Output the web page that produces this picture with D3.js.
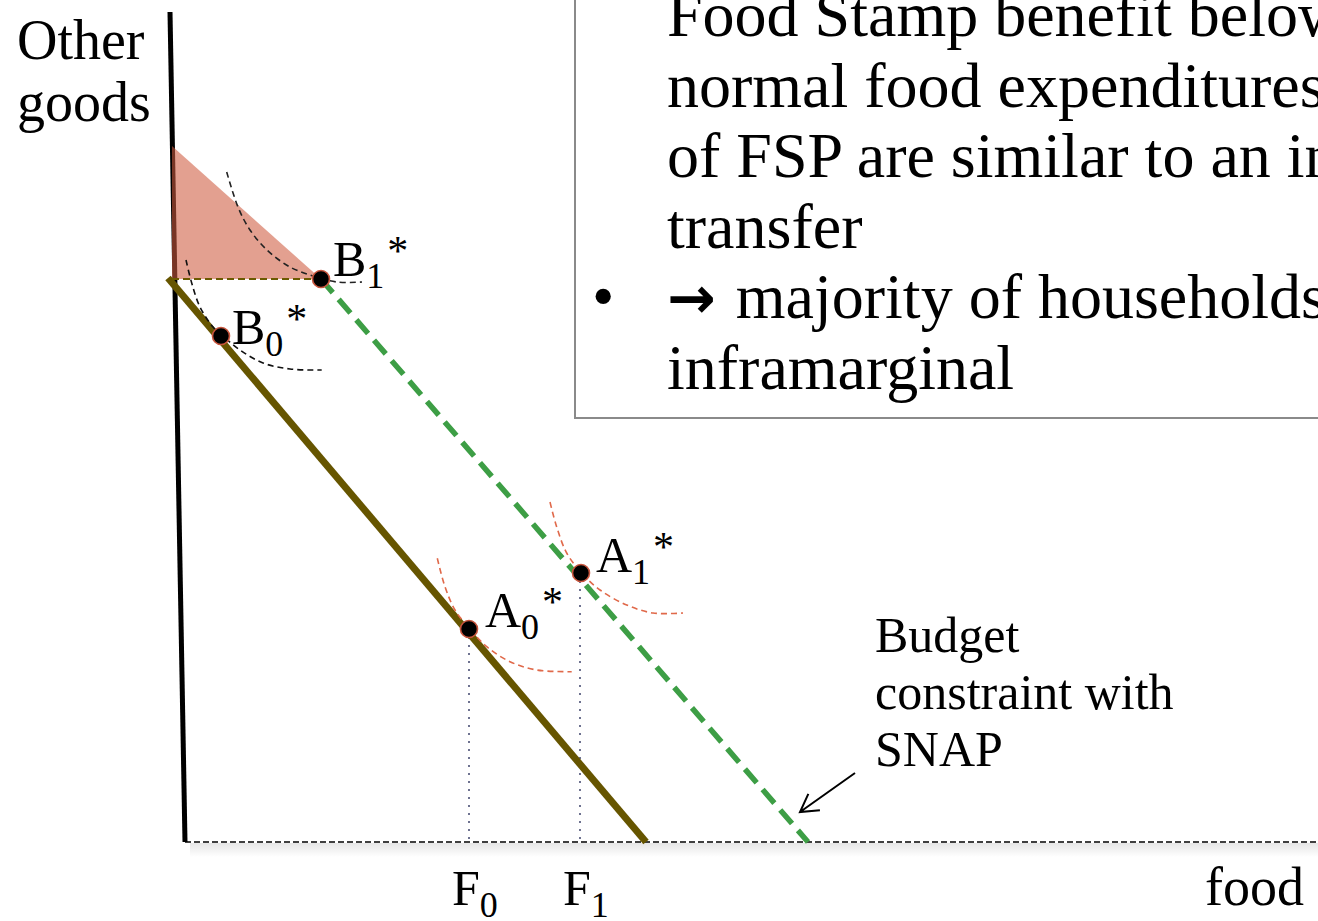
<!DOCTYPE html>
<html>
<head>
<meta charset="utf-8">
<script src="https://cdn.jsdelivr.net/npm/d3@7"></script>
<style>
  html, body { margin: 0; padding: 0; background: #fff; overflow: hidden; }
  svg { display: block; }
</style>
</head>
<body>
<svg id="chart" width="1318" height="921"></svg>
<script>
// ---------- DATA (units: food on x, other goods on y) ----------
const yAxisLine     = [[0, 83], [1.5, 0]];
const xAxisRange    = [1.5, 114.8];
const budgetLine    = [[-0.2, 56.4], [47.6, 0]];
const snapFlat      = [[0.2, 56.3], [15.1, 56.3]];
const snapLine      = [[15.1, 56.3], [63.8, 0]];
const benefitArea   = [[0.2, 69.6], [0.2, 56.3], [15.1, 56.3]];

const icB1 = [[5.67,67.0],[6.8,63.5],[8.0,61.2],[9.7,59.2],[12.0,57.5],[14.3,56.6],[16.7,56.0],[19.2,56.0]];
const icB0 = [[1.6,58.2],[2.17,55.9],[3.0,53.5],[4.3,51.5],[5.17,50.7],[7.0,49.2],[9.3,47.9],[12.0,47.3],[15.17,47.2]];
const icA1 = [[38.0,34.0],[38.67,31.5],[39.67,28.9],[41.17,26.9],[43.0,25.2],[45.67,23.7],[48.3,22.9],[51.3,22.9]];
const icA0 = [[26.73,28.37],[27.5,25.53],[28.5,23.2],[29.93,21.37],[31.67,19.53],[34.0,18.03],[36.67,17.2],[40.17,17.03]];

const pointNames = ["B", "B", "A", "A"];
const pointSubs  = ["1", "0", "1", "0"];
const pointX     = [15.1, 5.1, 41.1, 29.9];
const pointY     = [56.3, 50.6, 26.9, 21.3];

const tickNames  = ["F", "F"];
const tickSubs   = ["0", "1"];
const tickValues = [29.9, 41.0];
const tickTops   = [21.3, 26.9];

const yLabel = ["Other", "goods"];
const xLabel = "food";
const snapLabel = ["Budget", "constraint with", "SNAP"];
const arrowLine = [[68.5, 6.9], [63.0, 3.0]];

const boxLines = [
  {bullet: false, arrow: false, text: "Food Stamp benefit below"},
  {bullet: false, arrow: false, text: "normal food expenditures"},
  {bullet: false, arrow: false, text: "of FSP are similar to an income"},
  {bullet: false, arrow: false, text: "transfer"},
  {bullet: true,  arrow: true,  text: "majority of households"},
  {bullet: false, arrow: false, text: "inframarginal"}
];

// ---------- SCALES ----------
const x = d3.scaleLinear().domain([0, 114.8]).range([170, 1318]);
const y = d3.scaleLinear().domain([0, 83]).range([842, 12]);

const svg = d3.select("#chart");
const serif = "'Liberation Serif', 'Times New Roman', serif";
const line = d3.line().x(d => x(d[0])).y(d => y(d[1]));
const curve = d3.line().x(d => x(d[0])).y(d => y(d[1])).curve(d3.curveCatmullRom.alpha(0.5));

// shadow under x-axis
const defs = svg.append("defs");
const grad = defs.append("linearGradient").attr("id", "shadow").attr("x1", 0).attr("y1", 0).attr("x2", 0).attr("y2", 1);
grad.append("stop").attr("offset", "0%").attr("stop-color", "#e6e6e6");
grad.append("stop").attr("offset", "100%").attr("stop-color", "#ffffff");
svg.append("rect")
  .attr("x", x(xAxisRange[0]) + 5).attr("y", y(0) + 1)
  .attr("width", x(xAxisRange[1]) - x(xAxisRange[0])).attr("height", 14)
  .attr("fill", "url(#shadow)");

// text box
const box = svg.append("g");
box.append("rect")
  .attr("x", 575).attr("y", -10).attr("width", 800).attr("height", 428)
  .attr("fill", "#fff").attr("stroke", "#8a8a8a").attr("stroke-width", 2);
const bt = box.selectAll("text.line").data(boxLines).join("text")
  .attr("class", "line")
  .attr("x", 667).attr("y", (d, i) => 36 + i * 70.5)
  .attr("font-family", serif).attr("font-size", 64).attr("fill", "#000");
bt.filter(d => d.arrow).append("tspan")
  .attr("font-family", "'DejaVu Sans', sans-serif").attr("font-weight", "bold").attr("font-size", 58)
  .text("\u2192 ");
bt.append("tspan").text(d => d.text);
box.selectAll("text.bullet").data(boxLines.filter(d => d.bullet)).join("text")
  .attr("class", "bullet")
  .attr("x", 592).attr("y", 36 + 4 * 70.5)
  .attr("font-family", serif).attr("font-size", 64).attr("fill", "#000")
  .text("\u2022");

// x axis (dashed)
svg.append("line")
  .attr("x1", x(xAxisRange[0])).attr("x2", x(xAxisRange[1]))
  .attr("y1", y(0)).attr("y2", y(0))
  .attr("stroke", "#000").attr("stroke-width", 1.6).attr("stroke-dasharray", "6,3");

// y axis
svg.append("path").attr("d", line(yAxisLine))
  .attr("stroke", "#000").attr("stroke-width", 5).attr("fill", "none");

// benefit triangle
svg.append("path").attr("d", line(benefitArea) + "Z")
  .attr("fill", "rgb(207,91,64)").attr("fill-opacity", 0.58).attr("stroke", "none");

// dotted drop lines
svg.selectAll("line.drop").data(tickValues).join("line")
  .attr("class", "drop")
  .attr("x1", d => x(d)).attr("x2", d => x(d))
  .attr("y1", (d, i) => y(tickTops[i])).attr("y2", y(0))
  .attr("stroke", "#6e7290").attr("stroke-width", 2).attr("stroke-dasharray", "2,6");

// budget constraint
svg.append("path").attr("d", line(budgetLine))
  .attr("stroke", "#665500").attr("stroke-width", 7).attr("fill", "none");

// SNAP flat part
svg.append("path").attr("d", line(snapFlat))
  .attr("stroke", "#6b5a00").attr("stroke-width", 2).attr("stroke-dasharray", "7,4").attr("fill", "none");

// SNAP budget line
svg.append("path").attr("d", line(snapLine))
  .attr("stroke", "#3d9e45").attr("stroke-width", 5.5).attr("stroke-dasharray", "18,9").attr("fill", "none");

// indifference curves
const ics = [{d: icB1, c: "#222"}, {d: icB0, c: "#111"}, {d: icA1, c: "#e0694a"}, {d: icA0, c: "#e0694a"}];
svg.selectAll("path.ic").data(ics).join("path")
  .attr("class", "ic")
  .attr("d", d => curve(d.d))
  .attr("stroke", d => d.c).attr("stroke-width", 1.6).attr("stroke-dasharray", "6,4").attr("fill", "none");

// points
svg.selectAll("circle.pt").data(pointX).join("circle")
  .attr("class", "pt")
  .attr("cx", d => x(d)).attr("cy", (d, i) => y(pointY[i]))
  .attr("r", 8.5).attr("fill", "#000").attr("stroke", "#c8553d").attr("stroke-width", 1.6);

// point labels
const labelOff = [[12, -3], [11, 8], [15, -1], [16, -2]];
pointX.forEach((px, i) => {
  const t = svg.append("text")
    .attr("x", x(px) + labelOff[i][0]).attr("y", y(pointY[i]) + labelOff[i][1])
    .attr("font-family", serif).attr("fill", "#000");
  t.append("tspan").attr("font-size", 50).text(pointNames[i]);
  t.append("tspan").attr("font-size", 36).attr("dy", 12).text(pointSubs[i]);
  t.append("tspan").attr("font-size", 42).attr("dy", -23).attr("dx", 3).text("*");
});

// tick labels F0, F1
tickValues.forEach((v, i) => {
  const t = svg.append("text")
    .attr("x", x(v) - 17).attr("y", 905)
    .attr("font-family", serif).attr("fill", "#000");
  t.append("tspan").attr("font-size", 50).text(tickNames[i]);
  t.append("tspan").attr("font-size", 36).attr("dy", 12).text(tickSubs[i]);
});

// axis labels
svg.selectAll("text.ylab").data(yLabel).join("text")
  .attr("class", "ylab")
  .attr("x", 17).attr("y", (d, i) => 59 + i * 62)
  .attr("font-family", serif).attr("font-size", 56).attr("fill", "#000")
  .text(d => d);
svg.append("text")
  .attr("x", 1205).attr("y", 905)
  .attr("font-family", serif).attr("font-size", 54).attr("fill", "#000")
  .text(xLabel);

// SNAP label
svg.selectAll("text.snap").data(snapLabel).join("text")
  .attr("class", "snap")
  .attr("x", 875).attr("y", (d, i) => 652 + i * 57)
  .attr("font-family", serif).attr("font-size", 50).attr("fill", "#000")
  .text(d => d);

// arrow
const a0 = [x(arrowLine[0][0]), y(arrowLine[0][1])];
const a1 = [x(arrowLine[1][0]), y(arrowLine[1][1])];
const ang = Math.atan2(a0[1] - a1[1], a0[0] - a1[0]);
const hl = 20, ha = Math.PI / 6;
svg.append("path")
  .attr("d", `M${a0[0]},${a0[1]}L${a1[0]},${a1[1]}` +
    `M${a1[0] + hl * Math.cos(ang - ha)},${a1[1] + hl * Math.sin(ang - ha)}L${a1[0]},${a1[1]}` +
    `L${a1[0] + hl * Math.cos(ang + ha)},${a1[1] + hl * Math.sin(ang + ha)}`)
  .attr("stroke", "#000").attr("stroke-width", 2).attr("fill", "none");
</script>
</body>
</html>
